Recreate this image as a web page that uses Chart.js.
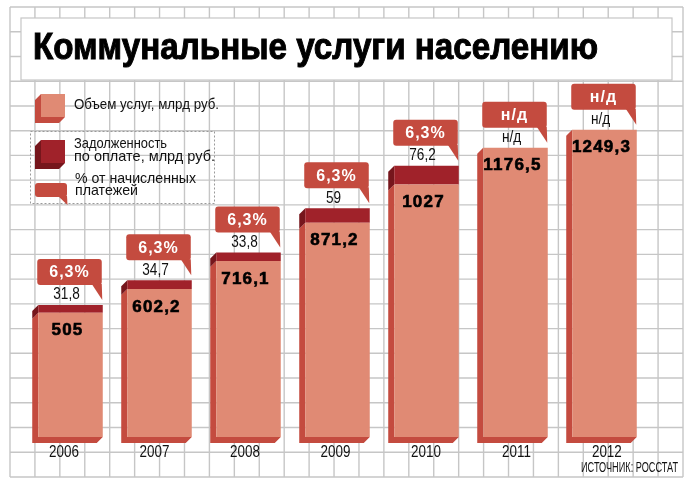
<!DOCTYPE html>
<html><head><meta charset="utf-8">
<style>html,body{margin:0;padding:0;background:#fff;}canvas{display:block;}</style>
<script src="https://cdn.jsdelivr.net/npm/chart.js@4.4.0/dist/chart.umd.min.js"></script>
</head><body>
<canvas id="c" width="690" height="488"></canvas>
<script>
const years = ['2006','2007','2008','2009','2010','2011','2012'];
const serviceVolume = [505, 602.2, 716.1, 871.2, 1027, 1176.5, 1249.3];
const debt = [31.8, 34.7, 33.8, 59, 76.2, null, null];
const debtShare = ['6,3%','6,3%','6,3%','6,3%','6,3%','н/д','н/д'];
const noData = 'н/д';
const titleText = 'Коммунальные услуги населению';
const sourceText = 'ИСТОЧНИК: РОССТАТ';
const legendVolume = ['Объем услуг, млрд руб.'];
const legendDebt = ['Задолженность', 'по оплате, млрд руб.'];
const legendShare = ['% от начисленных', 'платежей'];

const COL = {face:'#E08A74', side:'#C44B3F', debt:'#A0222A', debtSide:'#76161C', callout:'#C44B3F', grid:'#C6C6C6'};
const FONT = '"Liberation Sans", Arial, sans-serif';
const D = 6;

function fmt(v){ return v == null ? noData : String(v).replace('.', ','); }

function fitText(ctx, text, x, y, font, width, align){
  ctx.save(); ctx.font = font;
  const w = ctx.measureText(text).width;
  ctx.translate(x, y); ctx.scale(width / w, 1);
  ctx.textAlign = align || 'left';
  ctx.fillText(text, 0, 0); ctx.restore();
}
function scaledText(ctx, text, x, y, font, sx, align){
  ctx.save(); ctx.font = font; ctx.translate(x, y); ctx.scale(sx, 1);
  ctx.textAlign = align || 'center'; ctx.fillText(text, 0, 0); ctx.restore();
}
function extrude(ctx, L, R, T, B, color, withBottom){
  ctx.fillStyle = color; ctx.beginPath();
  ctx.moveTo(L, T); ctx.lineTo(L - D, T + D);
  if (withBottom){ ctx.lineTo(L - D, B + D); ctx.lineTo(R - D, B + D); ctx.lineTo(R, B); }
  else { ctx.lineTo(L - D, B + D); ctx.lineTo(L, B); }
  ctx.lineTo(L, B); ctx.closePath(); ctx.fill();
}
function callout(ctx, x0, x1, y0, y1, tail){
  ctx.fillStyle = COL.callout; ctx.beginPath();
  ctx.roundRect(x0, y0, x1 - x0, y1 - y0, 3); ctx.fill();
  ctx.beginPath(); ctx.moveTo(x1 - tail[0], y1 - 1); ctx.lineTo(x1, y1 - 1); ctx.lineTo(x1 + 0.5, y1 + tail[1]); ctx.closePath(); ctx.fill();
}

const backdrop = {
  id: 'backdrop',
  beforeDraw(chart){
    const ctx = chart.ctx;
    ctx.save();
    ctx.fillStyle = '#fff'; ctx.fillRect(0, 0, chart.width, chart.height);
    ctx.strokeStyle = COL.grid; ctx.lineWidth = 1.4;
    const gx0 = 10, gx1 = 683, gy0 = 7, gy1 = 477;
    for (let i = 0; i <= 27; i++){ const x = gx0 + (gx1 - gx0) * i / 27; ctx.beginPath(); ctx.moveTo(x, gy0); ctx.lineTo(x, gy1); ctx.stroke(); }
    for (let j = 0; j <= 19; j++){ const y = gy0 + (gy1 - gy0) * j / 19; ctx.beginPath(); ctx.moveTo(gx0, y); ctx.lineTo(gx1, y); ctx.stroke(); }
    // title box
    ctx.fillStyle = '#fff'; ctx.fillRect(21, 18, 651, 62);
    ctx.lineWidth = 1.2; ctx.strokeRect(21, 18, 651, 62);
    ctx.fillStyle = '#000'; ctx.strokeStyle = '#000'; ctx.lineWidth = 1;
    ctx.textBaseline = 'alphabetic';
    ctx.save(); ctx.font = 'bold 36px ' + FONT;
    const tw = ctx.measureText(titleText).width;
    ctx.translate(33, 59); ctx.scale(565 / tw, 1);
    ctx.fillText(titleText, 0, 0); ctx.strokeText(titleText, 0, 0); ctx.restore();
    // legend
    extrude(ctx, 41, 65, 94, 117, COL.side, true);
    ctx.fillStyle = COL.face; ctx.fillRect(41, 94, 24, 23);
    ctx.fillStyle = '#111'; ctx.textBaseline = 'middle';
    fitText(ctx, legendVolume[0], 74, 105, '15px ' + FONT, 145);
    ctx.save(); ctx.strokeStyle = '#9a9a9a'; ctx.lineWidth = 1; ctx.setLineDash([2, 2]);
    ctx.strokeRect(30.5, 131.5, 184, 72); ctx.restore();
    extrude(ctx, 41, 65, 140, 163, COL.debtSide, true);
    ctx.fillStyle = COL.debt; ctx.fillRect(41, 140, 24, 23);
    ctx.fillStyle = '#111';
    fitText(ctx, legendDebt[0], 74, 144, '15px ' + FONT, 93);
    fitText(ctx, legendDebt[1], 74, 157, '15px ' + FONT, 141);
    callout(ctx, 35, 67, 183, 197, [9, 8]);
    ctx.fillStyle = '#111';
    fitText(ctx, legendShare[0], 75, 179, '15px ' + FONT, 121);
    fitText(ctx, legendShare[1], 75, 191, '15px ' + FONT, 63);
    ctx.restore();
  },
  beforeDatasetsDraw(chart){
    const ctx = chart.ctx;
    const m0 = chart.getDatasetMeta(0), m1 = chart.getDatasetMeta(1);
    ctx.save();
    m0.data.forEach((el, i) => {
      const L = el.x - el.width / 2, R = el.x + el.width / 2;
      extrude(ctx, L, R, el.y, el.base, COL.side, true);
      const e1 = m1.data[i];
      if (debt[i] != null && e1){
        extrude(ctx, L, R, e1.y, e1.base, COL.debtSide, false);
      }
    });
    ctx.restore();
  },
  afterDatasetsDraw(chart){
    const ctx = chart.ctx;
    const m0 = chart.getDatasetMeta(0), m1 = chart.getDatasetMeta(1);
    ctx.save();
    ctx.textBaseline = 'middle';
    m0.data.forEach((el, i) => {
      const L = el.x - el.width / 2, R = el.x + el.width / 2;
      const e1 = m1.data[i];
      const top = (debt[i] != null && e1) ? e1.y : el.y;
      // value label
      ctx.fillStyle = '#000'; ctx.strokeStyle = '#000'; ctx.lineWidth = 0.6;
      ctx.letterSpacing = '1.2px';
      ctx.font = 'bold 17px ' + FONT; ctx.textAlign = 'center';
      ctx.fillText(fmt(serviceVolume[i]), el.x - 3, el.y + 18);
      ctx.strokeText(fmt(serviceVolume[i]), el.x - 3, el.y + 18);
      ctx.letterSpacing = '0px';
      // debt label
      ctx.fillStyle = '#111';
      scaledText(ctx, fmt(debt[i]), el.x - 4, top - 10, '16px ' + FONT, 0.85, 'center');
      // callout
      const by1 = top - 20, by0 = by1 - 26;
      callout(ctx, L - 1, R - 1, by0, by1, [10, 15]);
      ctx.fillStyle = '#fff'; ctx.letterSpacing = '1px';
      ctx.font = 'bold 16px ' + FONT; ctx.textAlign = 'center';
      ctx.fillText(debtShare[i], el.x - 1, (by0 + by1) / 2 + 1);
      ctx.letterSpacing = '0px';
      // year label
      ctx.fillStyle = '#111';
      scaledText(ctx, years[i], el.x * 1.0165 - 7.6, 453, '16px ' + FONT, 0.84, 'center');
    });
    ctx.fillStyle = '#111';
    fitText(ctx, sourceText, 581, 468, '14px ' + FONT, 97);
    ctx.restore();
  }
};

new Chart(document.getElementById('c'), {
  type: 'bar',
  data: {
    labels: years,
    datasets: [
      {label: legendVolume[0], data: serviceVolume, backgroundColor: COL.face, borderWidth: 0},
      {label: legendDebt.join(' '), data: debt, backgroundColor: COL.debt, borderWidth: 0}
    ]
  },
  options: {
    responsive: false,
    animation: false,
    devicePixelRatio: 1,
    layout: {padding: {left: 26, right: 41, top: 92.7, bottom: 51}},
    datasets: {bar: {barPercentage: 0.725, categoryPercentage: 1}},
    scales: {
      x: {display: false, stacked: true, grid: {display: false}},
      y: {display: false, stacked: true, min: 0, max: 1400, grid: {display: false}}
    },
    plugins: {legend: {display: false}, tooltip: {enabled: false}}
  },
  plugins: [backdrop]
});
</script>
</body></html>
